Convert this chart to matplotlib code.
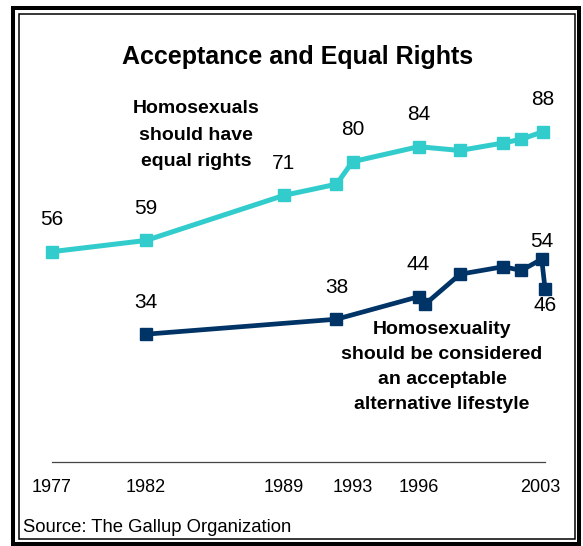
import matplotlib
matplotlib.use("Agg")
import matplotlib.pyplot as plt
from matplotlib.patches import Rectangle

# Survey dates (decimal years) and percentages
rights_dates = [1977.0, 1982.0, 1989.3, 1992.1, 1992.95, 1996.45, 1998.65, 2000.95, 2001.9, 2003.05]
rights_values = [56, 59, 71, 74, 80, 84, 83, 85, 86, 88]
rights_labeled = [0, 1, 2, 4, 5, 9]

lifestyle_dates = [1982.0, 1992.1, 1996.45, 1996.8, 1998.65, 2000.95, 2001.9, 2002.98, 2003.16]
lifestyle_values = [34, 38, 44, 42, 50, 52, 51, 54, 46]
lifestyle_labeled = [0, 1, 2, 7, 8]

tick_labels = ["1977", "1982", "1989", "1993", "1996", "2003"]
tick_dates = [1977.0, 1982.0, 1989.3, 1992.95, 1996.45, 2002.92]

title = "Acceptance and Equal Rights"
rights_note = "Homosexuals\nshould have\nequal rights"
lifestyle_note = "Homosexuality\nshould be considered\nan acceptable\nalternative lifestyle"
source = "Source: The Gallup Organization"

TEAL = "#33CCCC"
NAVY = "#003366"
W, H = 583, 546

plt.rcParams["font.family"] = ["Liberation Sans", "DejaVu Sans"]

fig = plt.figure(figsize=(W / 100, H / 100), dpi=100)
fig.patch.set_facecolor("white")


def fx(px):
    return px / W


def fy(py):
    return 1 - py / H


ax = fig.add_axes([fx(51.7), fy(461.7), fx(545.1) - fx(51.7), fy(86.7) - fy(461.7)])
ax.set_xlim(rights_dates[0], lifestyle_dates[-1])
ax.set_ylim(0, 100)

ax.plot(rights_dates, rights_values, color=TEAL, lw=3.6, marker="s",
        ms=9, mec=TEAL, mfc=TEAL, clip_on=False, solid_joinstyle="miter")
ax.plot(lifestyle_dates, lifestyle_values, color=NAVY, lw=3.4, marker="s",
        ms=9, mec=NAVY, mfc=NAVY, clip_on=False, solid_joinstyle="miter")

for i in rights_labeled:
    ax.annotate(str(rights_values[i]), (rights_dates[i], rights_values[i]),
                xytext=(0, 23), textcoords="offset points",
                ha="center", va="center", fontsize=15, color="black")

offsets = {7: 13, 8: -12}
for i in lifestyle_labeled:
    ax.annotate(str(lifestyle_values[i]), (lifestyle_dates[i], lifestyle_values[i]),
                xytext=(0, offsets.get(i, 23)), textcoords="offset points",
                ha="center", va="center", fontsize=15, color="black")

for s in ("left", "right", "top"):
    ax.spines[s].set_visible(False)
ax.spines["bottom"].set_color("#444444")
ax.spines["bottom"].set_linewidth(0.9)
ax.set_yticks([])
ax.set_xticks(tick_dates)
ax.set_xticklabels(tick_labels, fontsize=13)
ax.tick_params(axis="x", length=0, pad=12.5)
ax.set_facecolor("none")

fig.text(fx(298), fy(57), title, ha="center", va="center",
         fontsize=18, fontweight="bold")
fig.text(fx(196), fy(135), rights_note, ha="center", va="center",
         fontsize=14, fontweight="bold", linespacing=1.7)
fig.text(fx(442), fy(367), lifestyle_note, ha="center", va="center",
         fontsize=14, fontweight="bold", linespacing=1.6)
fig.text(fx(23), fy(528), source, ha="left", va="center", fontsize=13.3)

# Double frame around the whole graphic
outer = Rectangle((fx(13), fy(543.5)), fx(579.5) - fx(13), fy(7.5) - fy(543.5),
                  transform=fig.transFigure, fill=False, ec="black", lw=2.9)
inner = Rectangle((fx(18.5), fy(538.5)), fx(574.5) - fx(18.5), fy(14) - fy(538.5),
                  transform=fig.transFigure, fill=False, ec="black", lw=1.1)
fig.add_artist(outer)
fig.add_artist(inner)

fig.savefig("out.png", dpi=100)
